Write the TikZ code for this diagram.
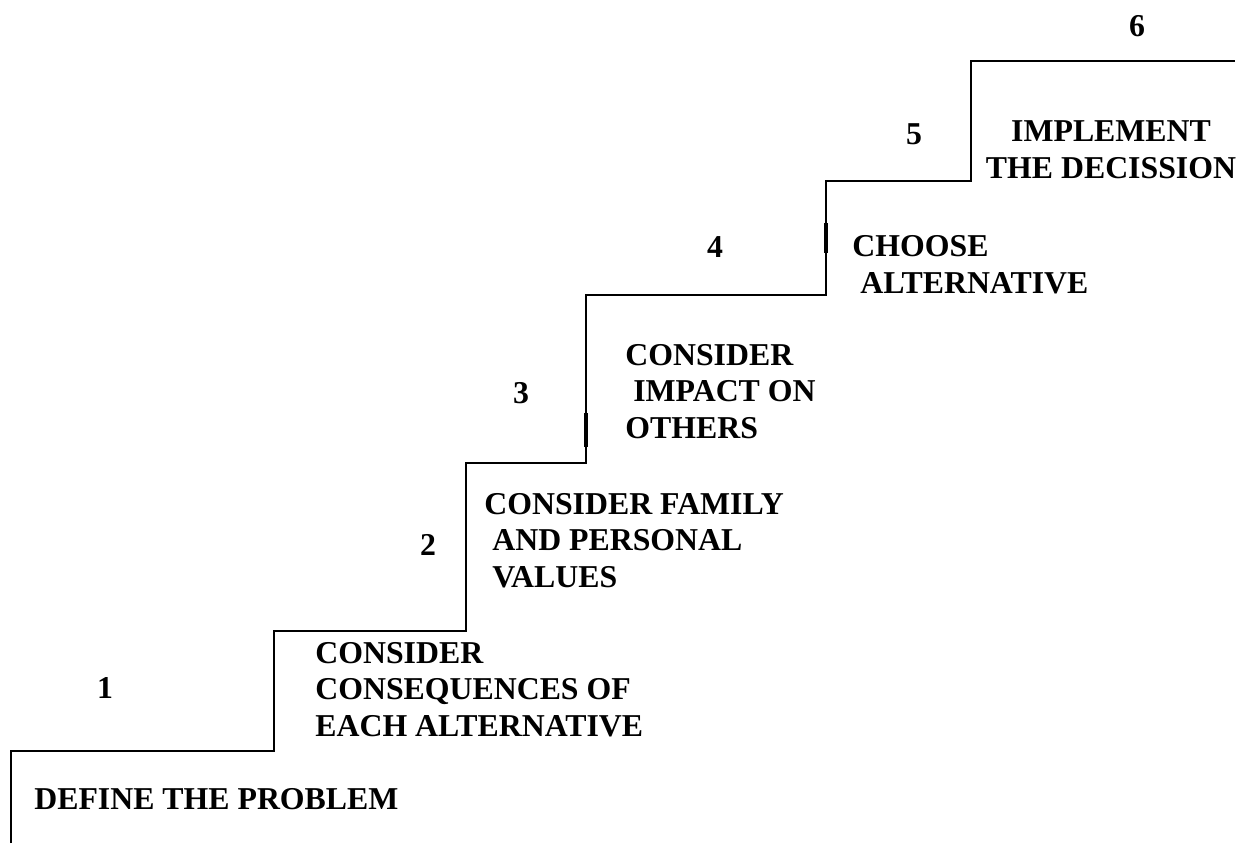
\documentclass[tikz,border=0pt]{standalone}
\usepackage{fontspec}
\setmainfont{Liberation Serif}[BoldFont={Liberation Serif Bold}]
\begin{document}
\begin{tikzpicture}[x=0.5pt, y=-0.5pt,
    stair/.style={line width=1pt},
    steplabel/.style={font=\fontsize{15.9}{18.25}\selectfont\bfseries, inner sep=0pt, anchor=base west, align=left},
    stepnum/.style={font=\fontsize{15.9}{18.25}\selectfont\bfseries, inner sep=0pt}]
  \useasboundingbox (0, 0) rectangle (1239, 843);

  % the staircase
  \draw[stair] (11, 843) -- (11, 751) -- (274, 751) -- (274, 631) -- (466, 631)
    -- (466, 463) -- (586, 463) -- (586, 295) -- (826, 295) -- (826, 181)
    -- (971, 181) -- (971, 61) -- (1235, 61);
  \draw[line width=1.6pt] (586, 413) -- (586, 447);
  \draw[line width=1.6pt] (826, 223) -- (826, 253);

  % step numbers
  \node[stepnum] (num1) at (105, 688) {1};
  \node[stepnum] (num2) at (428, 545) {2};
  \node[stepnum] (num3) at (521, 393) {3};
  \node[stepnum] (num4) at (715, 247) {4};
  \node[stepnum] (num5) at (914, 134) {5};
  \node[stepnum] (num6) at (1137, 26) {6};

  % step texts (base = last line)
  \node[steplabel] (define) at (34, 809) {DEFINE THE PROBLEM};
  \node[steplabel] (conseq) at (315, 736) {CONSIDER\\CONSEQUENCES OF\\EACH ALTERNATIVE};
  \node[steplabel] (values) at (484, 587) {CONSIDER FAMILY\\\ AND PERSONAL\\\ VALUES};
  \node[steplabel] (impact) at (625, 438) {CONSIDER\\\ IMPACT ON\\OTHERS};
  \node[steplabel] (choose) at (852, 293) {CHOOSE\\\ ALTERNATIVE};
  \node[steplabel, anchor=base, align=center] (implement) at (1111, 178) {IMPLEMENT\\THE DECISSION};
\end{tikzpicture}
\end{document}
